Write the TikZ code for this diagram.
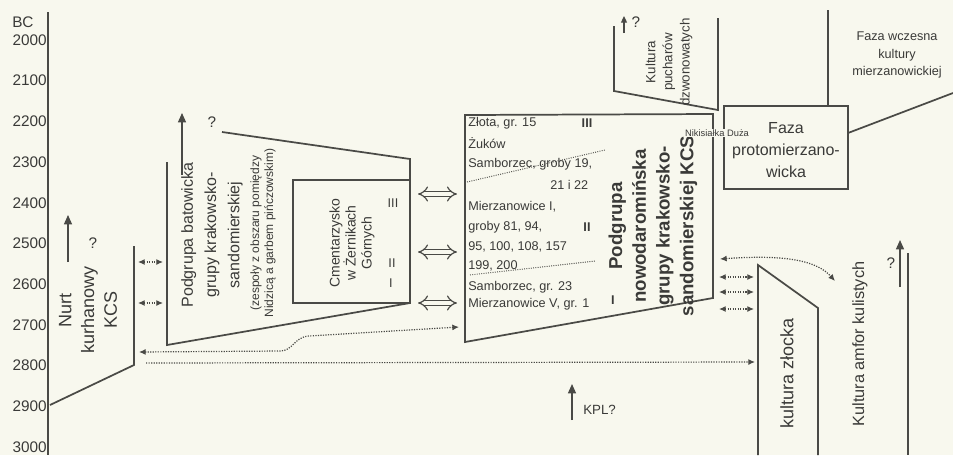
\documentclass[tikz,border=0pt]{standalone}
\usepackage{fontspec}
\setmainfont{Liberation Sans}
\usepackage{tikz}
\usepackage{xcolor}
\usetikzlibrary{arrows.meta,calc,positioning}
\definecolor{PaperCream}{HTML}{F8F8EE}
\definecolor{InkGray}{HTML}{4A4A46}
\definecolor{TextGray}{HTML}{3A3A38}
\newcommand{\fyear}{\fontsize{11.5}{12}\selectfont}
\newcommand{\fbig}{\fontsize{13.5}{17}\selectfont}
\newcommand{\fmid}{\fontsize{12}{17.5}\selectfont}
\newcommand{\fsml}{\fontsize{9.5}{12.8}\selectfont}
\newcommand{\ftiny}{\fontsize{7}{8}\selectfont}
\tikzset{
  chline/.style={draw=InkGray, line width=1.3pt, line join=miter},
  chaxis/.style={draw=InkGray, line width=1.5pt},
  chlabel/.style={text=TextGray, inner sep=0pt, align=center},
  chrot/.style={chlabel, rotate=90},
  chyear/.style={text=TextGray, anchor=east, inner sep=0pt, font=\fyear},
  chup/.style={-{Triangle[length=7pt,width=6pt]}, draw=InkGray, line width=1pt},
  chsmallup/.style={-{Triangle[length=5pt,width=4.5pt]}, draw=InkGray, line width=0.9pt},
  chdot/.style={{Latex[length=5pt,width=4.5pt]}-{Latex[length=5pt,width=4.5pt]}, densely dotted, draw=InkGray, line width=0.9pt},
  chdotright/.style={-{Latex[length=5pt,width=4.5pt]}, densely dotted, draw=InkGray, line width=0.9pt},
  chsep/.style={densely dotted, draw=InkGray, line width=0.7pt},
  chdouble/.style={{Implies}-{Implies}, double=PaperCream, double distance=3pt, draw=InkGray, line width=0.9pt}
}
\begin{document}
\begin{tikzpicture}[x=0.75pt, y=-0.75pt]
  \fill[PaperCream] (0,0) rectangle (953,455);
  \useasboundingbox (0,0) rectangle (953,455);
  % time axis
  \coordinate (axtop) at (48,12);
  \coordinate (axbot) at (48,455);
  \draw[chaxis] (axtop) -- (axbot);
  \node[chlabel, anchor=west, font=\fyear] (bc) at (12,22) {BC};
  \foreach \yr [count=\k from 0] in {2000,2100,...,3000}
    \node[chyear] (y\yr) at (47,{40+40.7*\k}) {\yr};
  % Nurt kurhanowy
  \draw[chline] (134,246) -- (134,365) -- (50,405);
  \coordinate (nurtA) at (68,262);
  \coordinate (nurtB) at (68,215);
  \draw[chup] (nurtA) -- (nurtB);
  \node[chlabel, font=\fyear] (nurtq) at (93,243) {?};
  \node[chrot, font=\fbig] (nurt) at (88,310) {Nurt\\kurhanowy\\KCS};
  % Podgrupa batowicka
  \draw[chline] (222,132) -- (410,159) -- (410,180);
  \draw[chline] (293,180) rectangle (410,303);
  \draw[chline] (410,303) -- (167,345) -- (167,162);
  \coordinate (batA) at (182,175);
  \coordinate (batB) at (182,113);
  \draw[chup] (batA) -- (batB);
  \node[chlabel, font=\fyear] (batq) at (212,122) {?};
  \node[chrot, font=\fmid] (bat) at (212,235) {Podgrupa batowicka\\grupy krakowsko-\\sandomierskiej};
  \node[chrot, font=\fontsize{9}{10.5}\selectfont] (batnote) at (263,233) {(zespoły z obszaru pomiędzy\\Nidzicą a garbem pińczowskim)};
  % Cmentarzysko
  \node[chrot, font=\fontsize{10.5}{12}\selectfont] (cem) at (352,243) {Cmentarzysko\\w Żernikach\\Górnych};
  \node[chlabel, font=\fsml] (cem3) at (393,203) {III};
  \node[chlabel, font=\fsml] (cem2) at (392,263) {II};
  \node[chlabel, font=\fsml] (cem1) at (391,283) {I};
  \foreach \yy [count=\n] in {194,252,303} {
    \coordinate (dl\n) at (418,\yy);
    \coordinate (dr\n) at (457,\yy);
    \draw[chdouble] (dl\n) -- (dr\n);
  }
  % Podgrupa nowodarominska
  \draw[chline] (465,115) -- (713,114) -- (713,298) -- (465,342) -- cycle;
  \draw[chsep] (467,182) -- (605,150);
  \draw[chsep] (470,275) -- (595,261);
  \node[chlabel, anchor=west, font=\fsml] (s1) at (468,123) {Złota, gr. 15};
  \node[chlabel, anchor=west, font=\fsml] (s2) at (468,143) {Żuków};
  \node[chlabel, anchor=west, font=\fsml] (s3) at (468,164) {Samborzec, groby 19,};
  \node[chlabel, anchor=west, font=\fsml] (s4) at (550,185) {21 i 22};
  \node[chlabel, anchor=west, font=\fsml] (s5) at (468,207) {Mierzanowice I,};
  \node[chlabel, anchor=west, font=\fsml] (s6) at (468,227) {groby 81, 94,};
  \node[chlabel, anchor=west, font=\fsml] (s7) at (468,247) {95, 100, 108, 157};
  \node[chlabel, anchor=west, font=\fsml] (s8) at (468,266) {199, 200};
  \node[chlabel, anchor=west, font=\fsml] (s9) at (468,287) {Samborzec, gr. 23};
  \node[chlabel, anchor=west, font=\fsml] (s10) at (468,304) {Mierzanowice V, gr. 1};
  \node[chlabel, font=\fsml\bfseries] (nd3) at (587,123) {III};
  \node[chlabel, font=\fsml\bfseries] (nd2) at (587,227) {II};
  \node[chlabel, font=\fsml\bfseries] (nd1) at (613,300) {I};
  \node[chrot, font=\fontsize{14}{17.8}\selectfont\bfseries] (nowo) at (653,226) {Podgrupa\\nowodaromińska\\grupy krakowsko-\\sandomierskiej KCS};
  % Faza protomierzanowicka
  \draw[chline] (724,106) rectangle (848,189);
  \node[chlabel, font=\fontsize{12}{16.5}\selectfont] (proto) at (786,150) {Faza\\protomierzano-\\wicka};
  \node[chlabel, font=\ftiny, fill=PaperCream, inner sep=0.6pt] (niki) at (717,133) {Nikisiałka Duża};
  \coordinate (wczA) at (828,10);
  \coordinate (wczB) at (953,93);
  \draw[chline] (wczA) -- (828,106);
  \draw[chline] (848,133) -- (wczB);
  \node[chlabel, font=\fontsize{9.5}{12.8}\selectfont] (wcz) at (897,55) {Faza wczesna\\kultury\\mierzanowickiej};
  % Kultura pucharow dzwonowatych
  \draw[chline] (614,26) -- (614,91) -- (718,110) -- (718,18);
  \coordinate (pucA) at (624,33);
  \coordinate (pucB) at (624,16);
  \draw[chsmallup] (pucA) -- (pucB);
  \node[chlabel, font=\fyear] (pucq) at (636,22) {?};
  \node[chrot, font=\fontsize{10}{12.8}\selectfont] (puc) at (669,62) {Kultura\\pucharów\\dzwonowatych};
  % Kultura zlocka
  \draw[chline] (758,455) -- (758,265) -- (818,308) -- (818,455);
  \node[chrot, font=\fbig] (zlo) at (787,373) {kultura złocka};
  \foreach \yy [count=\n] in {277,292,309} {
    \coordinate (zl\n) at (719,\yy);
    \coordinate (zr\n) at (754,\yy);
    \draw[chdot] (zl\n) -- (zr\n);
  }
  \coordinate (arcA) at (720,259);
  \coordinate (arcB) at (835,281);
  \draw[chdot] (arcA) .. controls (790,254) and (818,262) .. (arcB);
  % Kultura amfor kulistych
  \draw[chline] (908,253) -- (908,455);
  \coordinate (amfA) at (900,287);
  \coordinate (amfB) at (900,240);
  \draw[chup] (amfA) -- (amfB);
  \node[chlabel, font=\fyear] (amfq) at (891,263) {?};
  \node[chrot, font=\fontsize{12.2}{14}\selectfont] (amf) at (860,344) {Kultura amfor kulistych};
  % contacts between groups
  \foreach \yy [count=\n] in {262,303} {
    \coordinate (nl\n) at (138,\yy);
    \coordinate (nr\n) at (163,\yy);
    \draw[chdot] (nl\n) -- (nr\n);
  }
  \coordinate (lowA) at (139,352);
  \coordinate (lowB) at (459,327);
  \draw[chdot] (lowA) -- (280,351) .. controls (293,351) and (294,337) .. (309,336) -- (lowB);
  \coordinate (longA) at (146,363);
  \coordinate (longB) at (755,362);
  \draw[chdotright] (longA) -- (longB);
  % KPL
  \coordinate (kplA) at (572,420);
  \coordinate (kplB) at (572,384);
  \draw[chup] (kplA) -- (kplB);
  \node[chlabel, anchor=west, font=\fontsize{10}{12}\selectfont] (kpl) at (583,410) {KPL?};
\end{tikzpicture}
\end{document}
